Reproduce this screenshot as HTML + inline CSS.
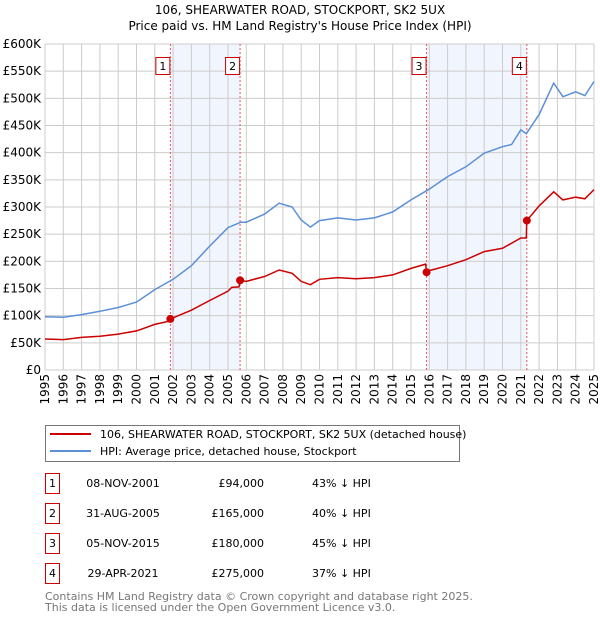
<!DOCTYPE html>
<html><head><meta charset="utf-8"><style>
body{margin:0;background:#fff;font-family:"DejaVu Sans","Liberation Sans",sans-serif;}
svg text{font-family:"DejaVu Sans","Liberation Sans",sans-serif;}
</style></head><body>
<svg id="chart" width="600" height="620" xmlns="http://www.w3.org/2000/svg">
<text x="300" y="14" text-anchor="middle" font-size="12">106, SHEARWATER ROAD, STOCKPORT, SK2 5UX</text>
<text x="300" y="30" text-anchor="middle" font-size="12">Price paid vs. HM Land Registry's House Price Index (HPI)</text>
<g id="plot"></g>
<g>
<rect x="45.5" y="425.5" width="414" height="36" fill="#fff" stroke="#777"/>
<line x1="50" y1="434" x2="91" y2="434" stroke="#cc0000" stroke-width="2"/>
<text x="100" y="438" font-size="11">106, SHEARWATER ROAD, STOCKPORT, SK2 5UX (detached house)</text>
<line x1="50" y1="451" x2="91" y2="451" stroke="#5b8fd6" stroke-width="2"/>
<text x="100" y="455" font-size="11">HPI: Average price, detached house, Stockport</text>
</g>
<g id="table"></g>
<text x="45" y="600" font-size="11" fill="#777">Contains HM Land Registry data © Crown copyright and database right 2025.</text>
<text x="45" y="611" font-size="11" fill="#777">This data is licensed under the Open Government Licence v3.0.</text>
</svg>
<script>
const hpiYears=[1995,1996,1997,1998,1999,2000,2001,2002,2003,2004,2005,2005.7,2006,2007,2007.8,2008.5,2009,2009.5,2010,2011,2012,2013,2014,2015,2015.85,2016,2017,2018,2019,2020,2020.5,2021,2021.3,2022,2022.8,2023.3,2024,2024.5,2025];
const hpiValues=[98,97,102,108,115,125,148,167,192,228,262,272,272,287,307,300,276,263,275,280,276,280,291,313,330,333,356,374,399,411,415,442,435,470,528,503,512,505,531];
const ppYears=[1995,1996,1997,1998,1999,2000,2001,2001.8,2001.85,2002,2003,2004,2005,2005.2,2005.6,2005.66,2006,2007,2007.8,2008.5,2009,2009.5,2010,2011,2012,2013,2014,2015,2015.8,2015.85,2016,2017,2018,2019,2020,2021,2021.3,2021.33,2022,2022.8,2023.3,2024,2024.5,2025];
const ppValues=[57,56,60,62,66,72,84,90,94,96,110,128,145,152,153,165,163,172,184,178,163,157,167,170,168,170,175,187,195,180,183,192,203,218,224,243,243,275,302,328,313,318,315,332];
const saleYears=[2001.85,2005.66,2015.85,2021.33];
const saleValues=[94,165,180,275];
const saleLabels=["1","2","3","4"];
const saleDates=["08-NOV-2001","31-AUG-2005","05-NOV-2015","29-APR-2021"];
const salePrices=["£94,000","£165,000","£180,000","£275,000"];
const saleDiffs=["43% ↓ HPI","40% ↓ HPI","45% ↓ HPI","37% ↓ HPI"];
const yTicks=[0,50,100,150,200,250,300,350,400,450,500,550,600];
const yTickLabels=["£0","£50K","£100K","£150K","£200K","£250K","£300K","£350K","£400K","£450K","£500K","£550K","£600K"];
const xTicks=[1995,1996,1997,1998,1999,2000,2001,2002,2003,2004,2005,2006,2007,2008,2009,2010,2011,2012,2013,2014,2015,2016,2017,2018,2019,2020,2021,2022,2023,2024,2025];

const NS="http://www.w3.org/2000/svg";
const X0=45,X1=594,Y0=370,Y1=44;
const xs=v=>X0+(v-1995)/(2025-1995)*(X1-X0);
const ys=v=>Y0-(v/600)*(Y0-Y1);
const plot=document.getElementById('plot');
function mk(tag,attrs,parent){const e=document.createElementNS(NS,tag);for(const k in attrs)e.setAttribute(k,attrs[k]);(parent||plot).appendChild(e);return e;}

// shaded regions
for(let i=0;i<4;i+=2){
  const r=mk('rect',{x:xs(saleYears[i]),y:Y1,width:xs(saleYears[i+1])-xs(saleYears[i]),height:Y0-Y1,fill:'#eef3fc',opacity:0.8});
  
  
}
// grid
xTicks.forEach((t,i)=>{
  const l=mk('line',{x1:xs(t),x2:xs(t),y1:Y1,y2:Y0,stroke:'#cccccc','stroke-width':1});
  
  
  const tx=mk('text',{x:0,y:0,'font-size':12,'text-anchor':'end',transform:`translate(${xs(t)+4},${Y0+4}) rotate(-90)`});
  
  
  tx.textContent=t;
});
yTicks.forEach((t,i)=>{
  const l=mk('line',{x1:X0,x2:X1,y1:ys(t),y2:ys(t),stroke:'#cccccc','stroke-width':1});
  
  
  const tx=mk('text',{x:X0-4,y:ys(t)+4,'font-size':12,'text-anchor':'end'});
  
  
  tx.textContent=yTickLabels[i];
});
// sale vlines
saleYears.forEach((s,i)=>{
  const l=mk('line',{x1:xs(s),x2:xs(s),y1:Y1,y2:Y0,stroke:'#ee5555','stroke-width':1,'stroke-dasharray':'2,2'});
  
  
  const b=mk('rect',{x:xs(s)-14-0.5,y:57.5,width:14,height:17,fill:'#fff',stroke:'#cc0000'});
  
  
  const t=mk('text',{x:xs(s)-7.5,y:70,'font-size':11,'text-anchor':'middle'});
  
  
  t.textContent=saleLabels[i];
});
function path(xa,va){return xa.map((x,i)=>(i?'L':'M')+xs(x).toFixed(1)+','+ys(va[i]).toFixed(1)).join(' ');}
const hp=mk('path',{d:path(hpiYears,hpiValues),fill:'none',stroke:'#5b8fd6','stroke-width':1.5});


const pp=mk('path',{d:path(ppYears,ppValues),fill:'none',stroke:'#cc0000','stroke-width':1.5});


saleYears.forEach((s,i)=>{
  const c=mk('circle',{cx:xs(s),cy:ys(saleValues[i]),r:4,fill:'#cc0000'});
  
  
});
// table
const tb=document.getElementById('table');
saleLabels.forEach((lab,i)=>{
  const cy=483+i*30;
  const r=mk('rect',{x:45.5,y:cy-9.5,width:14,height:20,fill:'#fff',stroke:'#cc0000'},tb);
  
  
  const a=mk('text',{x:52.5,y:cy+4,'font-size':11,'text-anchor':'middle'},tb);
  
  
  a.textContent=lab;
  const d=mk('text',{x:123,y:cy+4,'font-size':11,'text-anchor':'middle'},tb);
  
  
  d.textContent=saleDates[i];
  const p=mk('text',{x:264,y:cy+4,'font-size':11,'text-anchor':'end'},tb);
  
  
  p.textContent=salePrices[i];
  const h=mk('text',{x:312,y:cy+4,'font-size':11},tb);
  
  
  h.textContent=saleDiffs[i];
});
</script>
</body></html>
